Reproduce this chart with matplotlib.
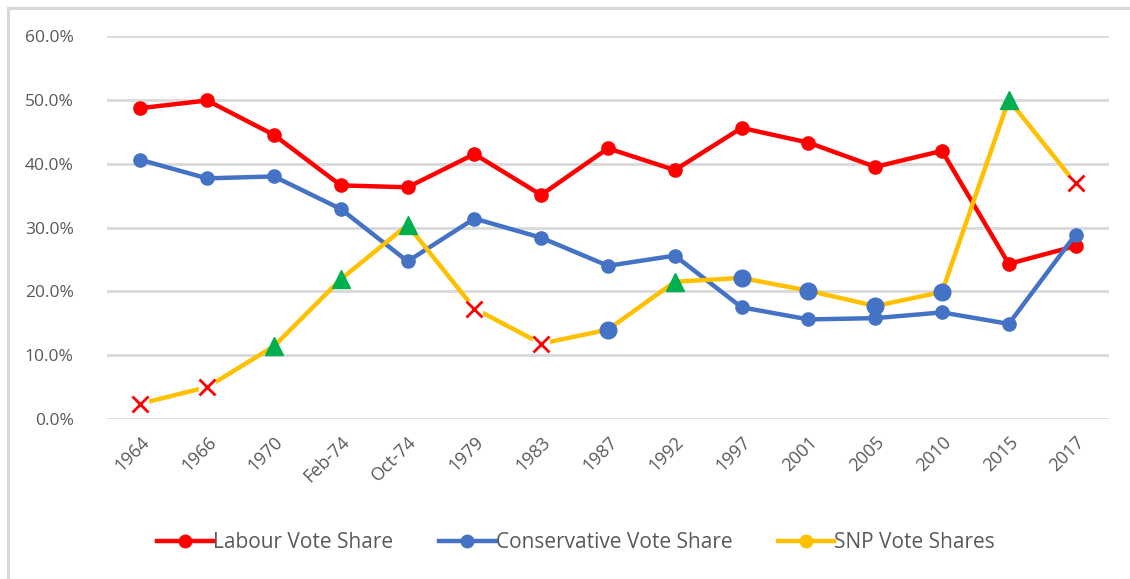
import matplotlib
matplotlib.use("Agg")
import matplotlib.pyplot as plt
from matplotlib.lines import Line2D

categories = ["1964", "1966", "1970", "Feb-74", "Oct-74", "1979", "1983", "1987",
              "1992", "1997", "2001", "2005", "2010", "2015", "2017"]
labour = [48.7, 49.9, 44.5, 36.6, 36.3, 41.5, 35.1, 42.4, 39.0, 45.6, 43.3, 39.5, 42.0, 24.3, 27.1]
conservative = [40.6, 37.7, 38.0, 32.9, 24.7, 31.4, 28.4, 24.0, 25.6, 17.5, 15.6, 15.8, 16.7, 14.9, 28.9]
snp = [2.4, 5.0, 11.4, 21.9, 30.4, 17.3, 11.8, 14.0, 21.5, 22.1, 20.1, 17.7, 19.9, 50.0, 36.9]
# marker type of each SNP point: x = red cross, t = green triangle, c = blue circle
snp_marker = ["x", "x", "t", "t", "t", "x", "x", "c", "t", "c", "c", "c", "c", "t", "x"]
yticks = [0, 10, 20, 30, 40, 50, 60]
series_labels = ["Labour Vote Share", "Conservative Vote Share", "SNP Vote Shares"]

RED = "#FF0000"
BLUE = "#4472C4"
GOLD = "#FFC000"
GREEN = "#00B050"
GRID = "#D9D9D9"
TXT = "#595959"

plt.rcParams["font.family"] = ["Open Sans", "DejaVu Sans"]

fig = plt.figure(figsize=(11.30, 5.79), dpi=100)
# chart-area border (left and top edges visible in the crop)
bx, by = 7.5 / 1130, 1 - 8.0 / 579
fig.lines.append(Line2D([bx, bx], [-0.05, by], transform=fig.transFigure, color=GRID, lw=2.2))
fig.lines.append(Line2D([bx, 1.05], [by, by], transform=fig.transFigure, color=GRID, lw=2.2))

ax = fig.add_axes([107 / 1130, 1 - 419 / 579, (1109 - 107) / 1130, (419 - 36) / 579])
x = list(range(len(categories)))

ax.plot(x, labour, color=RED, lw=3.2, marker="o", ms=9.5, zorder=3, solid_capstyle="round")
ax.plot(x, conservative, color=BLUE, lw=3.2, marker="o", ms=9.5, zorder=4, solid_capstyle="round")
ax.plot(x, snp, color=GOLD, lw=3.2, zorder=5, solid_capstyle="butt")

for xi, yi, m in zip(x, snp, snp_marker):
    if m == "x":
        ax.plot([xi], [yi], marker="s", ms=11, color="white", mec="white", zorder=6, ls="none")
        ax.plot([xi], [yi], marker="x", ms=12, mew=2.0, color=RED, zorder=7, ls="none")
    elif m == "t":
        ax.plot([xi], [yi], marker="^", ms=13, color=GREEN, mec=GREEN, zorder=7, ls="none")
    else:
        ax.plot([xi], [yi], marker="o", ms=12, color=BLUE, mec=BLUE, zorder=7, ls="none")

ax.set_xlim(-0.5, len(categories) - 0.5)
ax.set_ylim(0, 60)
ax.set_yticks(yticks)
ax.set_yticklabels([f"{v:.1f}%" for v in yticks])
ax.set_xticks(x)
ax.set_xticklabels(categories, rotation=45, ha="right", rotation_mode="anchor")
ax.grid(axis="y", color=GRID, lw=2.0, zorder=0)
ax.set_axisbelow(True)
for s in ax.spines.values():
    s.set_visible(False)
ax.tick_params(axis="both", length=0, colors=TXT)
ax.tick_params(axis="y", pad=24, labelsize=12.5)
ax.tick_params(axis="x", pad=10, labelsize=13)

handles = [
    Line2D([], [], color=RED, lw=3.2, marker="o", ms=9),
    Line2D([], [], color=BLUE, lw=3.2, marker="o", ms=9),
    Line2D([], [], color=GOLD, lw=3.2, marker="o", ms=9),
]
leg = fig.legend(handles, series_labels, loc="center", bbox_to_anchor=(576 / 1130, 1 - 543 / 579),
                 ncol=3, frameon=False, handlelength=2.7, handletextpad=0.0,
                 columnspacing=2.2, labelcolor=TXT, fontsize=15)

fig.savefig("out.png", dpi=100)
